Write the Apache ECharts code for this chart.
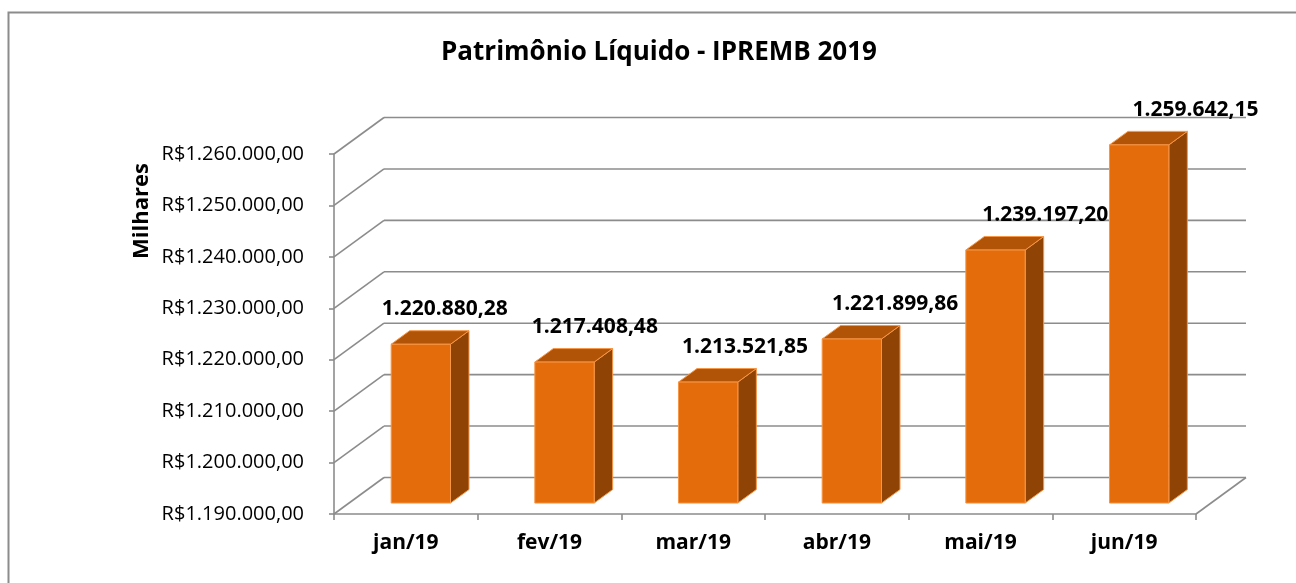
<!DOCTYPE html>
<html>
<head>
<meta charset="utf-8">
<script src="https://cdn.jsdelivr.net/npm/echarts@6/dist/echarts.min.js"></script>
<style>
  html, body { margin: 0; padding: 0; background: #fff; }
  #chart { width: 1296px; height: 583px; }
</style>
</head>
<body>
<div id="chart"></div>
<script>
// dados
const meses = ["jan/19", "fev/19", "mar/19", "abr/19", "mai/19", "jun/19"];
const patrimonio = [1220880.28, 1217408.48, 1213521.85, 1221899.86, 1239197.20, 1259642.15];
const yTicks = [1190000, 1200000, 1210000, 1220000, 1230000, 1240000, 1250000, 1260000];

const fontFamily = "'Open Sans', 'Noto Sans', sans-serif";
const lineColor = "#8c8c8c";
const depth = [50, -36.5]; // profundidade do "3D"
const frontFrac = 0.30;
const backFrac = 0.67;

// 1220880.28 -> "1.220.880,28"
function fmtBR(v) {
  const parts = v.toFixed(2).split(".");
  const inteiro = parts[0].replace(/\B(?=(\d{3})+(?!\d))/g, ".");
  return inteiro + "," + parts[1];
}

const chart = echarts.init(document.getElementById("chart"));

// paredes e piso
function renderWalls(params, api) {
  const cs = params.coordSys;
  const v = api.value(1);
  const y = api.coord([0, v])[1];
  const x0 = cs.x;
  const x1 = cs.x + cs.width;
  const style = { stroke: lineColor, lineWidth: 1.6 };
  const children = [
    { type: "line", shape: { x1: x0, y1: y, x2: x0 + depth[0], y2: y + depth[1] }, style: style },
    { type: "line", shape: { x1: x0 + depth[0], y1: y + depth[1], x2: x1 + depth[0], y2: y + depth[1] }, style: style },
  ];
  if (v === yTicks[0]) {
    children.push({ type: "line", shape: { x1: x1, y1: y, x2: x1 + depth[0], y2: y + depth[1] }, style: style });
  }
  return { type: "group", children: children };
}

// barras em "3D"
function renderBar(params, api) {
  const cs = params.coordSys;
  const idx = api.value(0);
  const top = api.coord([idx, api.value(1)]);
  const base = api.coord([idx, yTicks[0]]);
  const w = api.size([1, 0])[0] * 0.413;
  const fx = depth[0] * frontFrac, fy = depth[1] * frontFrac;
  const bx = depth[0] * backFrac, by = depth[1] * backFrac;
  const l = top[0] - w / 2 + fx;
  const r = top[0] + w / 2 + fx;
  const t = top[1] + fy;
  const b = base[1] + fy;
  const dx = bx - fx, dy = by - fy;
  // rótulo deslocado como na perspectiva do Excel
  const labelDx = 20 + 0.045 * ((l + r) / 2 - cs.x);
  const edge = { stroke: "#F79646", lineWidth: 1 };
  return {
    type: "group",
    children: [
      { type: "polygon", shape: { points: [[r, t], [r + dx, t + dy], [r + dx, b + dy], [r, b]] },
        style: Object.assign({ fill: "#8F4305" }, edge) },
      { type: "polygon", shape: { points: [[l, t], [l + dx, t + dy], [r + dx, t + dy], [r, t]] },
        style: Object.assign({ fill: "#B15407" }, edge) },
      { type: "rect", shape: { x: l, y: t, width: w, height: b - t },
        style: Object.assign({ fill: "#E46C0A" }, edge) },
      { type: "text",
        style: { text: fmtBR(api.value(1)), x: (l + r) / 2 + labelDx, y: t - 35,
          align: "center", verticalAlign: "middle",
          font: "bold 21px " + fontFamily, fill: "#000" } },
    ],
  };
}

chart.setOption({
  animation: false,
  backgroundColor: "#fff",
  graphic: [
    { type: "rect", shape: { x: 8.5, y: 12.5, width: 1400, height: 700 },
      style: { fill: "none", stroke: lineColor, lineWidth: 2 }, z: -10 },
    { type: "text", x: 659, y: 53,
      style: { text: "Patrimônio Líquido - IPREMB 2019", align: "center", verticalAlign: "middle",
        font: "bold 26px " + fontFamily, fill: "#000" } },
    { type: "text", x: 142, y: 211, rotation: Math.PI / 2,
      style: { text: "Milhares", align: "center", verticalAlign: "middle",
        font: "bold 22px " + fontFamily, fill: "#000" } },
  ],
  grid: { left: 334, top: 154, width: 862, height: 360 },
  xAxis: {
    type: "category",
    data: meses,
    boundaryGap: true,
    axisLine: { show: true, lineStyle: { color: lineColor, width: 1.6 } },
    axisTick: { show: true, length: 6, alignWithLabel: false, lineStyle: { color: lineColor, width: 1.6 } },
    axisLabel: { margin: 19, fontFamily: fontFamily, fontWeight: "bold", fontSize: 21, color: "#000" },
    splitLine: { show: false },
  },
  yAxis: {
    type: "value",
    min: 1190000,
    max: 1260000,
    interval: 10000,
    axisLine: { show: true, lineStyle: { color: lineColor, width: 1.6 } },
    axisTick: { show: true, length: 5, lineStyle: { color: lineColor, width: 1.6 } },
    axisLabel: { margin: 30, fontFamily: fontFamily, fontSize: 20, color: "#000",
      formatter: (v) => "R$" + fmtBR(v) },
    splitLine: { show: false },
  },
  series: [
    {
      name: "paredes",
      type: "custom",
      clip: false,
      z: 1,
      renderItem: renderWalls,
      encode: { x: 0, y: 1 },
      data: yTicks.map((v) => [0, v]),
      silent: true,
    },
    {
      name: "Patrimônio",
      type: "custom",
      clip: false,
      z: 5,
      renderItem: renderBar,
      encode: { x: 0, y: 1 },
      data: patrimonio.map((v, i) => [i, v]),
    },
  ],
});
</script>
</body>
</html>
